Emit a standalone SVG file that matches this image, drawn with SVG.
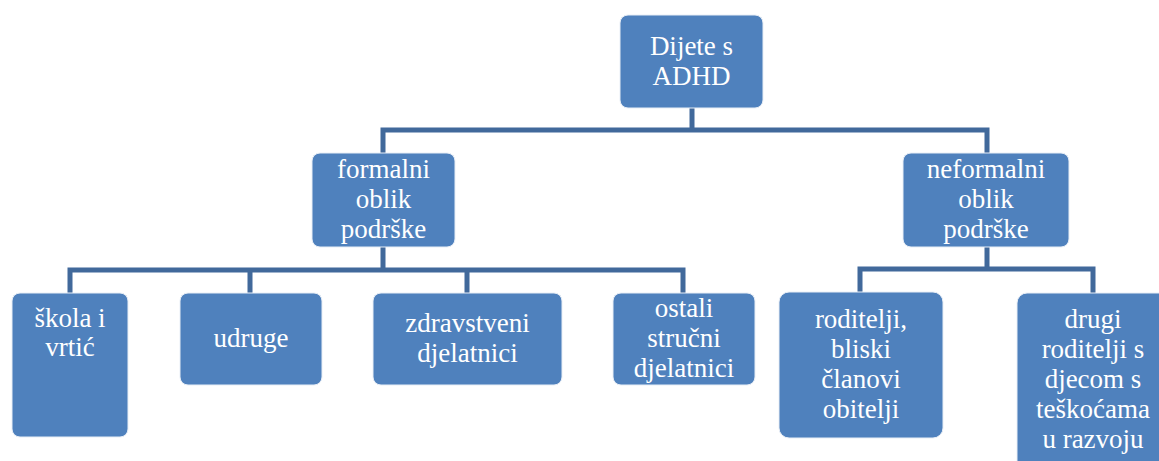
<svg xmlns="http://www.w3.org/2000/svg" width="1159" height="461" viewBox="0 0 1159 461">
<style>
.box{fill:#4F81BD;stroke:#E8EEF6;stroke-width:1}
.t{font-size:27px;fill:#FFFFFF;text-anchor:middle}
.c{fill:none;stroke:#41699B;stroke-width:5;stroke-linejoin:miter}
</style>
<rect width="1159" height="461" fill="#FFFFFF"/>
<g id="connectors">
<path class="c" d="M692,108 V130 M383,153 V130 H987 V153"/>
<path class="c" d="M383,247 V270 M70,293 V270 H683 V293 M250,270 V293 M467,270 V293"/>
<path class="c" d="M987,247 V269 M860,292 V269 H1093 V293"/>
</g>
<g font-family="Liberation Serif, Times New Roman, serif">
<g id="n-root">
<rect class="box" x="620" y="15" width="143" height="93" rx="8"/>
<text class="t" x="691.5" y="55">Dijete s</text>
<text class="t" x="691.5" y="85">ADHD</text>
</g>
<g id="n-formal">
<rect class="box" x="312" y="153" width="143" height="94" rx="8"/>
<text class="t" x="383.5" y="178">formalni</text>
<text class="t" x="383.5" y="208">oblik</text>
<text class="t" x="383.5" y="238">podrške</text>
</g>
<g id="n-neformal">
<rect class="box" x="903" y="153" width="166" height="94" rx="8"/>
<text class="t" x="986" y="178">neformalni</text>
<text class="t" x="986" y="208">oblik</text>
<text class="t" x="986" y="238">podrške</text>
</g>
<g id="n-skola">
<rect class="box" x="12" y="293" width="116" height="144" rx="8"/>
<text class="t" x="70" y="327">škola i</text>
<text class="t" x="70" y="356">vrtić</text>
</g>
<g id="n-udruge">
<rect class="box" x="180" y="293" width="142" height="92" rx="8"/>
<text class="t" x="251" y="347">udruge</text>
</g>
<g id="n-zdrav">
<rect class="box" x="373" y="293" width="189" height="92" rx="8"/>
<text class="t" x="467.5" y="332">zdravstveni</text>
<text class="t" x="467.5" y="362">djelatnici</text>
</g>
<g id="n-ostali">
<rect class="box" x="613" y="293" width="142" height="92" rx="8"/>
<text class="t" x="684" y="317">ostali</text>
<text class="t" x="684" y="347">stručni</text>
<text class="t" x="684" y="377">djelatnici</text>
</g>
<g id="n-roditelji">
<rect class="box" x="779" y="292" width="164" height="146" rx="10"/>
<text class="t" x="861" y="328">roditelji,</text>
<text class="t" x="861" y="358">bliski</text>
<text class="t" x="861" y="388">članovi</text>
<text class="t" x="861" y="418">obitelji</text>
</g>
<g id="n-drugi">
<rect class="box" x="1017" y="293" width="152" height="180" rx="10"/>
<text class="t" x="1093" y="328">drugi</text>
<text class="t" x="1093" y="358">roditelji s</text>
<text class="t" x="1093" y="388">djecom s</text>
<text class="t" x="1093" y="418">teškoćama</text>
<text class="t" x="1093" y="448">u razvoju</text>
</g>
</g>
</svg>
